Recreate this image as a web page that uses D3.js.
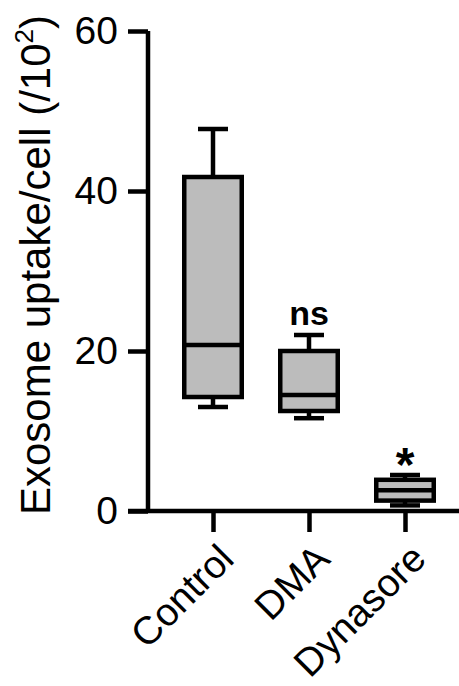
<!DOCTYPE html>
<html>
<head>
<meta charset="utf-8">
<script src="https://cdn.jsdelivr.net/npm/d3@7"></script>
<style>
  body { margin: 0; background: #fff; }
  text { font-family: "Liberation Sans", Arial, Helvetica, sans-serif; fill: #000; }
</style>
</head>
<body>
<div id="chart"></div>
<script>
// box plot values (units of 10^2)
const categories = ["Control", "DMA", "Dynasore"];
const mins    = [13.0, 11.6, 0.7];
const q1s     = [14.25, 12.5, 1.3];
const medians = [20.75, 14.5, 2.6];
const q3s     = [41.75, 20.0, 3.9];
const maxs    = [47.75, 22.0, 4.5];
const marks   = ["", "ns", "*"];
const yTicks  = [0, 20, 40, 60];

const width = 459, height = 686;
const sw = 4.5;

const svg = d3.select("#chart").append("svg")
  .attr("width", width)
  .attr("height", height);

const y = d3.scaleLinear().domain([0, 60]).range([511, 31]);
const x = d3.scalePoint().domain(categories).range([165, 453]).padding(0.5);

const boxW = 57.5, capW = 30;

const data = categories.map((c, i) => ({
  cat: c, min: mins[i], q1: q1s[i], med: medians[i], q3: q3s[i], max: maxs[i], mark: marks[i]
}));

// y axis
const yAxis = svg.append("g")
  .attr("transform", "translate(148,0)")
  .call(d3.axisLeft(y).tickValues(yTicks).tickSize(20).tickPadding(10));
yAxis.select(".domain").attr("d", `M0,${y(60)}V${y(0)}`);
yAxis.selectAll("line, path").attr("stroke", "#000").attr("stroke-width", sw);
yAxis.selectAll("text").attr("font-size", 39).attr("font-family", "Liberation Sans, Arial, sans-serif");

// x axis
const xAxis = svg.append("g")
  .attr("transform", `translate(0,${y(0)})`)
  .call(d3.axisBottom(x).tickSize(21).tickFormat(""));
xAxis.select(".domain").attr("d", `M128,0H${width}`);
xAxis.selectAll("line, path").attr("stroke", "#000").attr("stroke-width", sw);

// rotated category labels
svg.append("g").selectAll("text")
  .data(categories)
  .join("text")
  .attr("transform", d => `translate(${x(d) + 23},561) rotate(-45)`)
  .attr("text-anchor", "end")
  .attr("font-size", 39)
  .text(d => d);

// boxes
const g = svg.append("g");
const box = g.selectAll("g.box")
  .data(data)
  .join("g")
  .attr("class", "box");

box.append("line")
  .attr("x1", d => x(d.cat)).attr("x2", d => x(d.cat))
  .attr("y1", d => y(d.max)).attr("y2", d => y(d.q3))
  .attr("stroke", "#000").attr("stroke-width", sw);
box.append("line")
  .attr("x1", d => x(d.cat)).attr("x2", d => x(d.cat))
  .attr("y1", d => y(d.q1)).attr("y2", d => y(d.min))
  .attr("stroke", "#000").attr("stroke-width", sw);
box.append("line")
  .attr("x1", d => x(d.cat) - capW / 2).attr("x2", d => x(d.cat) + capW / 2)
  .attr("y1", d => y(d.max)).attr("y2", d => y(d.max))
  .attr("stroke", "#000").attr("stroke-width", sw);
box.append("line")
  .attr("x1", d => x(d.cat) - capW / 2).attr("x2", d => x(d.cat) + capW / 2)
  .attr("y1", d => y(d.min)).attr("y2", d => y(d.min))
  .attr("stroke", "#000").attr("stroke-width", sw);

box.append("rect")
  .attr("x", d => x(d.cat) - boxW / 2)
  .attr("width", boxW)
  .attr("y", d => y(d.q3))
  .attr("height", d => y(d.q1) - y(d.q3))
  .attr("fill", "#bcbcbc")
  .attr("stroke", "#000").attr("stroke-width", sw);

box.append("line")
  .attr("x1", d => x(d.cat) - boxW / 2).attr("x2", d => x(d.cat) + boxW / 2)
  .attr("y1", d => y(d.med)).attr("y2", d => y(d.med))
  .attr("stroke", "#000").attr("stroke-width", sw);

// significance marks
box.append("text")
  .attr("x", d => x(d.cat))
  .attr("y", d => d.mark === "*" ? y(d.max) + 6 : y(d.max) - 10)
  .attr("text-anchor", "middle")
  .attr("font-weight", "bold")
  .attr("font-size", d => d.mark === "*" ? 48 : 34)
  .text(d => d.mark);

// y label
const yl = svg.append("text")
  .attr("transform", `translate(50,265) rotate(-90)`)
  .attr("text-anchor", "middle")
  .attr("font-size", 42);
yl.append("tspan").text("Exosome uptake/cell (/10");
yl.append("tspan").attr("font-size", 26).attr("dy", -17).text("2");
yl.append("tspan").attr("dy", 17).text(")");
</script>
</body>
</html>
